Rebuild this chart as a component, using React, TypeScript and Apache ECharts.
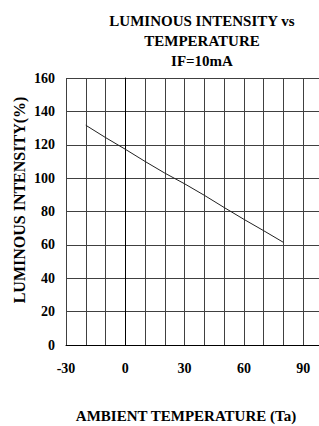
import React, { useEffect, useRef } from "react";
import * as echarts from "echarts";

const temperatures = [-20, -10, 0, 10, 20, 30, 40, 50, 60, 70, 80];
const intensity = [131.7, 124.3, 117.3, 110, 103, 96.6, 89.7, 82.4, 75.3, 68.5, 61.5];
const xLabels = [-30, 0, 30, 60, 90];
const titleText = "LUMINOUS INTENSITY vs\nTEMPERATURE\nIF=10mA";
const xName = "AMBIENT TEMPERATURE (Ta)";
const yName = "LUMINOUS INTENSITY(%)";

const FONT = "Liberation Serif";

export default function App() {
  const ref = useRef<HTMLDivElement>(null);
  useEffect(() => {
    if (!ref.current) return;
    const chart = echarts.init(ref.current, undefined, { renderer: "svg" });
    const gridColor = "#404040";
    chart.setOption({
      animation: false,
      backgroundColor: "#ffffff",
      title: {
        text: titleText,
        left: 197,
        top: 6,
        textAlign: "center",
        textStyle: {
          fontFamily: FONT,
          fontWeight: "bold",
          fontSize: 15,
          lineHeight: 20,
          color: "#000",
        },
      },
      grid: { left: 66, right: 0, top: 78, bottom: 81, containLabel: false },
      xAxis: {
        type: "value",
        min: -30,
        max: 98,
        interval: 10,
        axisLine: { show: true, lineStyle: { color: "#000", width: 1 } },
        axisTick: { show: false },
        splitLine: { show: true, lineStyle: { color: gridColor, width: 1 } },
        axisLabel: {
          margin: 16,
          showMaxLabel: false,
          formatter: (v: number) => (xLabels.includes(v) ? String(v) : ""),
          fontFamily: FONT,
          fontWeight: "bold",
          fontSize: 14,
          color: "#000",
        },
      },
      yAxis: {
        type: "value",
        min: 0,
        max: 160,
        interval: 20,
        axisLine: { show: true, lineStyle: { color: "#000", width: 1 } },
        axisTick: { show: false },
        splitLine: { show: true, lineStyle: { color: gridColor, width: 1 } },
        axisLabel: {
          margin: 11,
          fontFamily: FONT,
          fontWeight: "bold",
          fontSize: 14,
          color: "#000",
        },
      },
      graphic: [
        {
          type: "text",
          x: 186,
          y: 416,
          style: {
            text: xName,
            align: "center",
            verticalAlign: "middle",
            fontFamily: FONT,
            fontWeight: "bold",
            fontSize: 15,
            fill: "#000",
          },
        },
        {
          type: "text",
          x: 19,
          y: 200,
          rotation: Math.PI / 2,
          style: {
            text: yName,
            align: "center",
            verticalAlign: "middle",
            fontFamily: FONT,
            fontWeight: "bold",
            fontSize: 16,
            fill: "#000",
          },
        },
      ],
      series: [
        {
          type: "line",
          data: temperatures.map((t, i) => [t, intensity[i]]),
          showSymbol: false,
          symbol: "none",
          lineStyle: { color: "#222", width: 1 },
        },
      ],
    });
    return () => chart.dispose();
  }, []);
  return (
    <div
      ref={ref}
      style={{ position: "fixed", left: 0, top: 0, width: 319, height: 426 }}
    />
  );
}
